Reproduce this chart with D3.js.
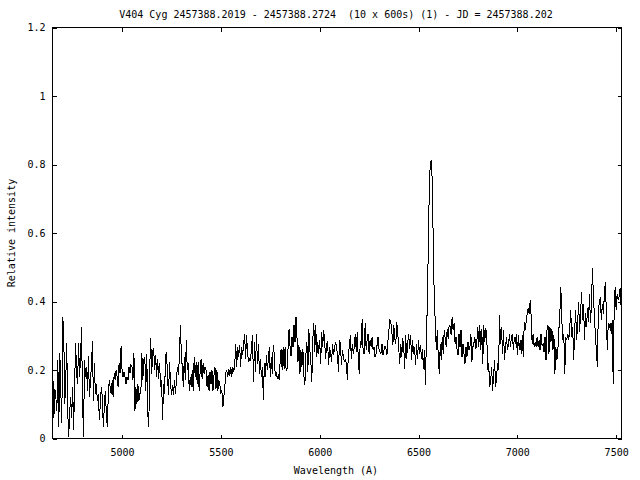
<!DOCTYPE html>
<html><head><meta charset="utf-8">
<script src="https://cdn.jsdelivr.net/npm/d3@7"></script>
<style>
html,body{margin:0;padding:0;background:#fff;}
svg{display:block;}
text{font-family:"DejaVu Sans Mono",monospace;font-size:10px;fill:#000;}
</style>
</head><body>
<svg id="chart" width="640" height="480"></svg>
<script>
const titleText = "V404 Cyg 2457388.2019 - 2457388.2724  (10 x 600s) (1) - JD = 2457388.202";
const xLabel = "Wavelength (A)";
const yLabel = "Relative intensity";
const xTicks = [5000, 5500, 6000, 6500, 7000, 7500];
const yTicks = [0, 0.2, 0.4, 0.6, 0.8, 1, 1.2];
const xDomain = [4648, 7527];
const yDomain = [0, 1.2];

const wavelength = [
4650,4655,4660,4665,4670,4675,4680,4685,4690,4695,4700,4705,4710,4715,4720,4725,4730,4735,4740,4745,
4750,4755,4760,4765,4770,4775,4780,4785,4790,4795,4800,4805,4810,4815,4820,4825,4830,4835,4840,4845,
4850,4855,4860,4865,4870,4875,4880,4885,4890,4895,4900,4905,4910,4915,4920,4925,4930,4935,4940,4945,
4950,4955,4960,4965,4970,4975,4980,4985,4990,4995,5000,5005,5010,5015,5020,5025,5030,5035,5040,5045,
5050,5055,5060,5065,5070,5075,5080,5085,5090,5095,5100,5105,5110,5115,5120,5125,5130,5135,5140,5145,
5150,5155,5160,5165,5170,5175,5180,5185,5190,5195,5200,5205,5210,5215,5220,5225,5230,5235,5240,5245,
5250,5255,5260,5265,5270,5275,5280,5285,5290,5295,5300,5305,5310,5315,5320,5325,5330,5335,5340,5345,
5350,5355,5360,5365,5370,5375,5380,5385,5390,5395,5400,5405,5410,5415,5420,5425,5430,5435,5440,5445,
5450,5455,5460,5465,5470,5475,5480,5485,5490,5495,5500,5505,5510,5515,5520,5525,5530,5535,5540,5545,
5550,5555,5560,5565,5570,5575,5580,5585,5590,5595,5600,5605,5610,5615,5620,5625,5630,5635,5640,5645,
5650,5655,5660,5665,5670,5675,5680,5685,5690,5695,5700,5705,5710,5715,5720,5725,5730,5735,5740,5745,
5750,5755,5760,5765,5770,5775,5780,5785,5790,5795,5800,5805,5810,5815,5820,5825,5830,5835,5840,5845,
5850,5855,5860,5865,5870,5875,5880,5885,5890,5895,5900,5905,5910,5915,5920,5925,5930,5935,5940,5945,
5950,5955,5960,5965,5970,5975,5980,5985,5990,5995,6000,6005,6010,6015,6020,6025,6030,6035,6040,6045,
6050,6055,6060,6065,6070,6075,6080,6085,6090,6095,6100,6105,6110,6115,6120,6125,6130,6135,6140,6145,
6150,6155,6160,6165,6170,6175,6180,6185,6190,6195,6200,6205,6210,6215,6220,6225,6230,6235,6240,6245,
6250,6255,6260,6265,6270,6275,6280,6285,6290,6295,6300,6305,6310,6315,6320,6325,6330,6335,6340,6345,
6350,6355,6360,6365,6370,6375,6380,6385,6390,6395,6400,6405,6410,6415,6420,6425,6430,6435,6440,6445,
6450,6455,6460,6465,6470,6475,6480,6485,6490,6495,6500,6505,6510,6515,6520,6525,6530,6535,6540,6545,
6550,6555,6560,6565,6570,6575,6580,6585,6590,6595,6600,6605,6610,6615,6620,6625,6630,6635,6640,6645,
6650,6655,6660,6665,6670,6675,6680,6685,6690,6695,6700,6705,6710,6715,6720,6725,6730,6735,6740,6745,
6750,6755,6760,6765,6770,6775,6780,6785,6790,6795,6800,6805,6810,6815,6820,6825,6830,6835,6840,6845,
6850,6855,6860,6865,6870,6875,6880,6885,6890,6895,6900,6905,6910,6915,6920,6925,6930,6935,6940,6945,
6950,6955,6960,6965,6970,6975,6980,6985,6990,6995,7000,7005,7010,7015,7020,7025,7030,7035,7040,7045,
7050,7055,7060,7065,7070,7075,7080,7085,7090,7095,7100,7105,7110,7115,7120,7125,7130,7135,7140,7145,
7150,7155,7160,7165,7170,7175,7180,7185,7190,7195,7200,7205,7210,7215,7220,7225,7230,7235,7240,7245,
7250,7255,7260,7265,7270,7275,7280,7285,7290,7295,7300,7305,7310,7315,7320,7325,7330,7335,7340,7345,
7350,7355,7360,7365,7370,7375,7380,7385,7390,7395,7400,7405,7410,7415,7420,7425,7430,7435,7440,7445,
7450,7455,7460,7465,7470,7475,7480,7485,7490,7495,7500,7505,7510,7515,7520,7525
];

const intensity = [
0.18,0.06,0.145,0.12,0.08,0.23,0.035,0.25,0.14,0.045,
0.355,0.305,0.10,0.17,0.28,0.08,0.005,0.08,0.12,0.06,
0.15,0.025,0.16,0.28,0.19,0.16,0.28,0.18,0.24,0.325,
0.11,0.005,0.23,0.18,0.21,0.14,0.24,0.12,0.17,0.21,
0.285,0.11,0.22,0.13,0.16,0.11,0.13,0.055,0.10,0.15,
0.12,0.035,0.09,0.14,0.08,0.035,0.12,0.17,0.15,0.13,
0.17,0.12,0.19,0.17,0.2,0.18,0.15,0.22,0.19,0.27,
0.2,0.18,0.195,0.18,0.16,0.18,0.17,0.21,0.19,0.215,
0.21,0.17,0.25,0.08,0.15,0.10,0.16,0.11,0.13,0.13,
0.25,0.17,0.23,
0.238,0.14,0.248,0.072,0.033,0.209,0.292,0.189,0.258,0.262,
0.199,0.243,0.18,0.233,0.175,0.219,0.15,0.17,0.053,0.16,
0.131,0.238,0.253,0.18,0.126,0.223,0.165,0.126,0.155,0.126,
0.17,0.131,0.17,0.209,0.185,0.238,0.331,0.248,0.204,0.15,
0.238,0.17,0.287,0.199,0.219,0.14,0.18,0.15,0.199,0.14,
0.238,0.18,0.223,0.16,0.223,0.14,0.194,0.233,0.175,0.219,
0.189,0.209,0.199,0.15,0.184,0.14,0.194,0.16,0.199,0.14,
0.184,0.209,0.145,0.199,0.14,0.17,0.155,0.131,0.14,0.092,
0.121,0.15,0.194,0.199,0.18,0.204,0.184,0.209,0.18,0.209,
0.194,0.214,0.277,0.209,0.267,0.238,0.272,0.209,0.267,0.243,
0.277,
0.306,0.233,0.301,0.248,0.223,0.233,0.228,0.267,0.301,0.165,
0.282,0.194,0.306,0.219,0.277,0.189,0.233,0.18,0.209,0.111,
0.219,0.18,0.243,0.199,0.228,0.267,0.18,0.238,0.189,0.272,
0.248,0.184,0.194,0.175,0.184,0.17,0.228,0.262,0.199,0.267,
0.204,0.267,0.199,0.204,0.267,0.321,0.267,0.24,0.297,0.267,
0.331,0.282,0.355,0.297,0.223,0.272,0.189,0.258,0.209,0.262,
0.184,0.155,0.243,0.282,0.194,0.321,0.258,0.228,0.165,0.287,
0.336,0.253,0.331,0.238,0.282,0.248,0.287,0.219,0.311,0.267,
0.316,0.282,0.233,0.277,0.282,0.214,0.267,0.248,0.223,0.277,
0.243,0.262,0.282,0.267,0.243,0.194,0.287,0.277,0.214,0.258,
0.238,
0.223,0.233,0.219,0.17,0.248,0.267,0.301,0.233,0.277,0.248,
0.267,0.306,0.253,0.311,0.233,0.189,0.282,0.277,0.35,0.248,
0.248,0.336,0.258,0.287,0.306,0.248,0.287,0.267,0.297,0.258,
0.267,0.238,0.248,0.272,0.297,0.262,0.253,0.248,0.277,0.243,
0.258,0.27,0.262,0.243,0.282,0.316,0.345,0.34,0.311,0.272,
0.331,0.292,0.277,0.34,0.306,0.262,0.219,0.277,0.238,0.292,
0.272,0.204,0.301,0.233,0.277,0.306,0.262,0.301,0.228,0.287,
0.248,0.267,0.214,0.277,0.233,0.287,0.248,0.272,0.233,0.262,
0.204,0.258,
0.155,0.30,0.40,0.58,0.75,0.805,0.812,0.74,0.55,0.40,0.34,
0.258,0.316,0.238,0.189,0.277,0.228,0.297,0.248,0.316,0.292,
0.267,0.321,0.292,0.331,0.326,0.301,0.355,0.316,0.336,0.277,
0.297,0.258,0.243,0.306,0.267,0.316,0.238,0.277,0.248,0.219,
0.267,0.238,0.282,0.258,0.267,0.306,0.223,0.267,0.277,0.297,
0.262,0.282,0.326,0.267,0.331,0.258,0.321,0.219,0.331,0.282,
0.321,0.306,0.199,0.219,0.15,0.17,0.209,0.14,0.189,0.228,
0.15,0.18,0.219,0.199,0.36,0.277,0.326,0.248,0.316,0.228,
0.267,0.297,0.258,0.272,0.306,0.267,0.297,0.306,0.258,0.297,
0.277,0.306,0.243,0.301,0.258,0.287,0.248,0.301,0.238,0.34,
0.316,0.345,0.365,0.38,
0.365,0.404,0.355,0.277,0.306,0.267,0.282,0.267,0.297,0.267,
0.287,0.258,0.306,0.272,0.277,0.253,0.297,0.228,0.316,0.331,
0.248,0.326,0.282,0.321,0.258,0.301,0.189,0.267,0.228,0.258,
0.316,0.365,0.443,0.345,0.287,0.306,0.189,0.297,0.287,0.306,
0.287,0.321,0.375,0.297,0.326,0.228,0.316,0.375,0.287,0.336,
0.399,0.311,0.365,0.428,0.345,0.394,0.287,0.365,0.326,0.38,
0.34,0.423,0.336,0.394,0.497,0.414,0.36,0.297,0.258,0.209,
0.384,0.394,0.414,0.345,0.394,0.365,0.414,0.458,0.375,0.258,
0.336,0.326,0.336,0.306,0.345,0.16,0.384,0.443,0.375,0.423,
0.404,0.414,0.438,0.384
];

const W = 640, H = 480;
const m = {left: 52.5, right: 621.5, top: 27.5, bottom: 438.5};
const svg = d3.select("#chart");
svg.append("rect").attr("width", W).attr("height", H).attr("fill", "#fff");

const x = d3.scaleLinear().domain(xDomain).range([m.left, m.right]);
const y = d3.scaleLinear().domain(yDomain).range([m.bottom, m.top]);
const fmt = d => String(d);
const TL = 4;

function styleAxis(g) {
  g.select(".domain").remove();
  g.selectAll("line").attr("stroke", "#000").attr("shape-rendering", "crispEdges");
  g.selectAll("text").attr("font-family", "DejaVu Sans Mono").attr("font-size", 10).attr("fill", "#000");
}

svg.append("g").attr("transform", `translate(0,${m.bottom})`)
  .call(d3.axisBottom(x).tickValues(xTicks).tickFormat(fmt).tickSize(-TL).tickPadding(10))
  .call(styleAxis);
svg.append("g").attr("transform", `translate(0,${m.top})`)
  .call(d3.axisTop(x).tickValues(xTicks).tickFormat("").tickSize(-TL))
  .call(styleAxis);
svg.append("g").attr("transform", `translate(${m.left},0)`)
  .call(d3.axisLeft(y).tickValues(yTicks).tickFormat(fmt).tickSize(-TL).tickPadding(7))
  .call(styleAxis);
svg.append("g").attr("transform", `translate(${m.right},0)`)
  .call(d3.axisRight(y).tickValues(yTicks).tickFormat("").tickSize(-TL))
  .call(styleAxis);

svg.append("rect")
  .attr("x", m.left).attr("y", m.top)
  .attr("width", m.right - m.left).attr("height", m.bottom - m.top)
  .attr("fill", "none").attr("stroke", "#000").attr("stroke-width", 1)
  .attr("shape-rendering", "crispEdges");

const line = d3.line()
  .x((d, i) => x(wavelength[i]))
  .y(d => y(d));

svg.append("path")
  .datum(intensity)
  .attr("d", line)
  .attr("fill", "none")
  .attr("stroke", "#000")
  .attr("stroke-width", 1)
  .attr("shape-rendering", "crispEdges");

svg.append("text")
  .attr("x", 336).attr("y", 18)
  .attr("text-anchor", "middle")
  .style("white-space", "pre")
  .text(titleText);

svg.append("text")
  .attr("x", 336).attr("y", 474)
  .attr("text-anchor", "middle")
  .text(xLabel);

svg.append("text")
  .attr("transform", "translate(15,233) rotate(-90)")
  .attr("text-anchor", "middle")
  .text(yLabel);
</script>
</body></html>
